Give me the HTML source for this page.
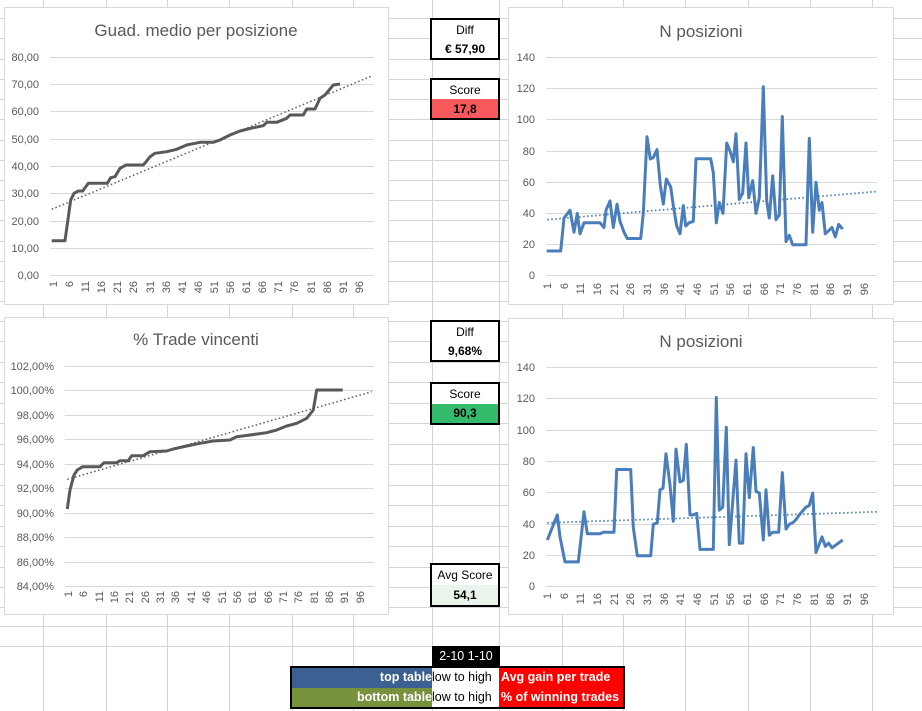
<!DOCTYPE html>
<html><head><meta charset="utf-8"><style>
body{margin:0;width:922px;height:711px;overflow:hidden;background:#fff;font-family:"Liberation Sans",sans-serif}
.bx{position:absolute;border:2px solid #000;box-sizing:border-box;font-size:12px;text-align:center;background:#fff}
.bx div{height:50%;display:flex;align-items:center;justify-content:center}
.b{font-weight:bold}
</style></head><body>
<svg width="922" height="711" style="position:absolute;left:0;top:0" font-family="Liberation Sans, sans-serif">
<g stroke="#d4d4d4" stroke-width="1">
<line x1="43.5" y1="0" x2="43.5" y2="711"/><line x1="106.5" y1="0" x2="106.5" y2="711"/><line x1="167.5" y1="0" x2="167.5" y2="711"/><line x1="229.5" y1="0" x2="229.5" y2="711"/><line x1="292.5" y1="0" x2="292.5" y2="711"/><line x1="353.5" y1="0" x2="353.5" y2="711"/><line x1="432.5" y1="0" x2="432.5" y2="711"/><line x1="499.5" y1="0" x2="499.5" y2="711"/><line x1="562.5" y1="0" x2="562.5" y2="711"/><line x1="623.5" y1="0" x2="623.5" y2="711"/><line x1="685.5" y1="0" x2="685.5" y2="711"/><line x1="748.5" y1="0" x2="748.5" y2="711"/><line x1="810.5" y1="0" x2="810.5" y2="711"/><line x1="872.5" y1="0" x2="872.5" y2="711"/>
<line x1="0" y1="18.5" x2="922" y2="18.5"/><line x1="0" y1="38.5" x2="922" y2="38.5"/><line x1="0" y1="59.5" x2="922" y2="59.5"/><line x1="0" y1="79.5" x2="922" y2="79.5"/><line x1="0" y1="99.5" x2="922" y2="99.5"/><line x1="0" y1="119.5" x2="922" y2="119.5"/><line x1="0" y1="140.5" x2="922" y2="140.5"/><line x1="0" y1="160.5" x2="922" y2="160.5"/><line x1="0" y1="180.5" x2="922" y2="180.5"/><line x1="0" y1="200.5" x2="922" y2="200.5"/><line x1="0" y1="220.5" x2="922" y2="220.5"/><line x1="0" y1="241.5" x2="922" y2="241.5"/><line x1="0" y1="261.5" x2="922" y2="261.5"/><line x1="0" y1="281.5" x2="922" y2="281.5"/><line x1="0" y1="301.5" x2="922" y2="301.5"/><line x1="0" y1="321.5" x2="922" y2="321.5"/><line x1="0" y1="341.5" x2="922" y2="341.5"/><line x1="0" y1="362.5" x2="922" y2="362.5"/><line x1="0" y1="382.5" x2="922" y2="382.5"/><line x1="0" y1="403.5" x2="922" y2="403.5"/><line x1="0" y1="423.5" x2="922" y2="423.5"/><line x1="0" y1="444.5" x2="922" y2="444.5"/><line x1="0" y1="464.5" x2="922" y2="464.5"/><line x1="0" y1="485.5" x2="922" y2="485.5"/><line x1="0" y1="505.5" x2="922" y2="505.5"/><line x1="0" y1="526.5" x2="922" y2="526.5"/><line x1="0" y1="546.5" x2="922" y2="546.5"/><line x1="0" y1="567.5" x2="922" y2="567.5"/><line x1="0" y1="587.5" x2="922" y2="587.5"/><line x1="0" y1="607.5" x2="922" y2="607.5"/><line x1="0" y1="626.5" x2="922" y2="626.5"/><line x1="0" y1="646.5" x2="922" y2="646.5"/>
</g>
<!-- chart frames -->
<g fill="#fff" stroke="#d9d9d9">
<rect x="4.5" y="7.5" width="384" height="297"/>
<rect x="508.5" y="7.5" width="385" height="297"/>
<rect x="4.5" y="317.5" width="384" height="297"/>
<rect x="508.5" y="318.5" width="385" height="296"/>
</g>
<g fill="#595959" font-size="17" text-anchor="middle">
<text x="196" y="36">Guad. medio per posizione</text>
<text x="701" y="37">N posizioni</text>
<text x="196" y="345">% Trade vincenti</text>
<text x="701" y="347">N posizioni</text>
</g>
<!-- chart 1 -->
<g stroke="#d9d9d9"><line x1="50" x2="374" y1="57.5" y2="57.5"/><line x1="50" x2="374" y1="84.5" y2="84.5"/><line x1="50" x2="374" y1="111.5" y2="111.5"/><line x1="50" x2="374" y1="139.5" y2="139.5"/><line x1="50" x2="374" y1="166.5" y2="166.5"/><line x1="50" x2="374" y1="193.5" y2="193.5"/><line x1="50" x2="374" y1="221.5" y2="221.5"/><line x1="50" x2="374" y1="248.5" y2="248.5"/><line x1="50" x2="374" y1="275.5" y2="275.5"/></g>
<g fill="#595959" font-size="11" text-anchor="end"><text x="39" y="61">80,00</text><text x="39" y="88">70,00</text><text x="39" y="115">60,00</text><text x="39" y="143">50,00</text><text x="39" y="170">40,00</text><text x="39" y="197">30,00</text><text x="39" y="225">20,00</text><text x="39" y="252">10,00</text><text x="39" y="279">0,00</text></g>
<g fill="#595959" font-size="11" text-anchor="end">
<text transform="translate(57,281) rotate(-90)">1</text><text transform="translate(73,281) rotate(-90)">6</text><text transform="translate(89,281) rotate(-90)">11</text><text transform="translate(105,281) rotate(-90)">16</text><text transform="translate(121,281) rotate(-90)">21</text><text transform="translate(137,281) rotate(-90)">26</text><text transform="translate(154,281) rotate(-90)">31</text><text transform="translate(170,281) rotate(-90)">36</text><text transform="translate(186,281) rotate(-90)">41</text><text transform="translate(202,281) rotate(-90)">46</text><text transform="translate(218,281) rotate(-90)">51</text><text transform="translate(234,281) rotate(-90)">56</text><text transform="translate(250,281) rotate(-90)">61</text><text transform="translate(266,281) rotate(-90)">66</text><text transform="translate(282,281) rotate(-90)">71</text><text transform="translate(298,281) rotate(-90)">76</text><text transform="translate(315,281) rotate(-90)">81</text><text transform="translate(331,281) rotate(-90)">86</text><text transform="translate(347,281) rotate(-90)">91</text><text transform="translate(363,281) rotate(-90)">96</text></g>
<line x1="51.7" y1="209.3" x2="371.7" y2="76" stroke="#595959" stroke-width="1.5" stroke-dasharray="1.5 2.5"/>
<polyline fill="none" stroke="#595959" stroke-width="3" stroke-linejoin="round" points="51.7,240.7 65,240.7 70.7,200 74,193.3 78.3,191 82.7,191 88.3,183.3 107.3,183.3 110.7,177.7 115,176.7 120,168.3 126,165 143.3,165 146.7,161 150,156.7 155,153.3 166.7,151.7 176.7,149.3 186.7,145 200,142.3 213.3,142.3 220,140 230,135 240,131 253.3,127.7 263.3,125.7 266.7,122.3 276.7,122.3 286.7,118.3 290,115 303.3,115 306.7,109 315,109 320,98.3 325,95 333.3,85 340,84"/>
<!-- chart 3 -->
<g stroke="#d9d9d9"><line x1="65" x2="374" y1="366.5" y2="366.5"/><line x1="65" x2="374" y1="390.5" y2="390.5"/><line x1="65" x2="374" y1="415.5" y2="415.5"/><line x1="65" x2="374" y1="439.5" y2="439.5"/><line x1="65" x2="374" y1="464.5" y2="464.5"/><line x1="65" x2="374" y1="488.5" y2="488.5"/><line x1="65" x2="374" y1="513.5" y2="513.5"/><line x1="65" x2="374" y1="537.5" y2="537.5"/><line x1="65" x2="374" y1="562.5" y2="562.5"/><line x1="65" x2="374" y1="586.5" y2="586.5"/></g>
<g fill="#595959" font-size="11" text-anchor="end"><text x="54" y="370">102,00%</text><text x="54" y="394">100,00%</text><text x="54" y="419">98,00%</text><text x="54" y="443">96,00%</text><text x="54" y="468">94,00%</text><text x="54" y="492">92,00%</text><text x="54" y="517">90,00%</text><text x="54" y="541">88,00%</text><text x="54" y="566">86,00%</text><text x="54" y="590">84,00%</text></g>
<g fill="#595959" font-size="11" text-anchor="end">
<text transform="translate(72,591) rotate(-90)">1</text><text transform="translate(87,591) rotate(-90)">6</text><text transform="translate(103,591) rotate(-90)">11</text><text transform="translate(118,591) rotate(-90)">16</text><text transform="translate(133,591) rotate(-90)">21</text><text transform="translate(149,591) rotate(-90)">26</text><text transform="translate(164,591) rotate(-90)">31</text><text transform="translate(179,591) rotate(-90)">36</text><text transform="translate(195,591) rotate(-90)">41</text><text transform="translate(210,591) rotate(-90)">46</text><text transform="translate(226,591) rotate(-90)">51</text><text transform="translate(241,591) rotate(-90)">56</text><text transform="translate(256,591) rotate(-90)">61</text><text transform="translate(272,591) rotate(-90)">66</text><text transform="translate(287,591) rotate(-90)">71</text><text transform="translate(302,591) rotate(-90)">76</text><text transform="translate(318,591) rotate(-90)">81</text><text transform="translate(333,591) rotate(-90)">86</text><text transform="translate(348,591) rotate(-90)">91</text><text transform="translate(364,591) rotate(-90)">96</text></g>
<line x1="67.3" y1="479.3" x2="371.7" y2="391.7" stroke="#595959" stroke-width="1.5" stroke-dasharray="1.5 2.5"/>
<polyline fill="none" stroke="#595959" stroke-width="3" stroke-linejoin="round" points="67.3,509 70,490 74,475 77.3,470 82.7,466.7 100,466.7 104,462.7 116.7,462.7 120,460.7 128.3,460.7 131.7,455.7 143.3,455.7 150,451.7 166.7,451 173.3,449 186.7,446 200,443.3 213.3,441 230,440 236.7,436.7 250,435 266.7,432.7 276.7,430 286.7,426 296.7,423.3 306.7,418.3 313.3,410 316.7,390 342.7,390"/>
<!-- chart 2 -->
<g stroke="#d9d9d9"><line x1="546" x2="877" y1="57.5" y2="57.5"/><line x1="546" x2="877" y1="88.5" y2="88.5"/><line x1="546" x2="877" y1="119.5" y2="119.5"/><line x1="546" x2="877" y1="151.5" y2="151.5"/><line x1="546" x2="877" y1="182.5" y2="182.5"/><line x1="546" x2="877" y1="213.5" y2="213.5"/><line x1="546" x2="877" y1="244.5" y2="244.5"/><line x1="546" x2="877" y1="275.5" y2="275.5"/></g>
<g fill="#595959" font-size="11" text-anchor="end"><text x="535" y="61">140</text><text x="535" y="92">120</text><text x="535" y="123">100</text><text x="535" y="155">80</text><text x="535" y="186">60</text><text x="535" y="217">40</text><text x="535" y="248">20</text><text x="535" y="279">0</text></g>
<g fill="#595959" font-size="11" text-anchor="end">
<text transform="translate(551,283) rotate(-90)">1</text><text transform="translate(568,283) rotate(-90)">6</text><text transform="translate(584,283) rotate(-90)">11</text><text transform="translate(601,283) rotate(-90)">16</text><text transform="translate(618,283) rotate(-90)">21</text><text transform="translate(634,283) rotate(-90)">26</text><text transform="translate(651,283) rotate(-90)">31</text><text transform="translate(668,283) rotate(-90)">36</text><text transform="translate(684,283) rotate(-90)">41</text><text transform="translate(701,283) rotate(-90)">46</text><text transform="translate(718,283) rotate(-90)">51</text><text transform="translate(734,283) rotate(-90)">56</text><text transform="translate(751,283) rotate(-90)">61</text><text transform="translate(768,283) rotate(-90)">66</text><text transform="translate(784,283) rotate(-90)">71</text><text transform="translate(801,283) rotate(-90)">76</text><text transform="translate(818,283) rotate(-90)">81</text><text transform="translate(834,283) rotate(-90)">86</text><text transform="translate(851,283) rotate(-90)">91</text><text transform="translate(868,283) rotate(-90)">96</text></g>
<line x1="547.3" y1="219.7" x2="876.7" y2="191.5" stroke="#4a7ebb" stroke-width="1.8" stroke-dasharray="1.5 2.5"/>
<polyline fill="none" stroke="#4a7ebb" stroke-width="3" stroke-linejoin="round" points="546.7,251 560.7,251 564,218.1 570,210.3 574,232.2 577.3,213.4 580,233.8 584,222.8 600,222.8 604,227.5 606,210.3 610,200.9 613.3,227.5 617,204.1 620,221.3 624,232.2 627.3,238.5 640.7,238.5 643.3,213.4 647,136.8 650.3,159 653.3,157.5 657,149.6 660.3,185.3 663.3,204.1 666.3,179 670.7,186.9 673.3,205.6 676.7,226 680,233.8 683.3,205.6 685.7,226 689,222.8 693.3,221.3 696,158.7 710.7,158.7 713.3,172.8 716.3,222.8 719.3,202.5 723,213.4 726.7,143 730,151 733.3,161.8 736,133.7 739.3,199.4 742.7,193.1 746,143 748.7,197.8 752.7,180.6 756,213.4 759.3,197.8 763.3,86.8 766.7,200.9 769.3,218.1 772.7,175.9 776,219.7 779.3,215 782.3,116.5 786,241.6 789.3,235.3 792.7,244.7 806,244.7 809.3,138.4 812.7,232.2 816,182.2 819.3,210.3 822,202.5 825.3,233.8 828.7,230.7 832,227.5 835.3,236.9 838.7,224.4 842.7,229.1"/>
<!-- chart 4 -->
<g stroke="#d9d9d9"><line x1="546" x2="877" y1="367.5" y2="367.5"/><line x1="546" x2="877" y1="398.5" y2="398.5"/><line x1="546" x2="877" y1="430.5" y2="430.5"/><line x1="546" x2="877" y1="461.5" y2="461.5"/><line x1="546" x2="877" y1="492.5" y2="492.5"/><line x1="546" x2="877" y1="524.5" y2="524.5"/><line x1="546" x2="877" y1="555.5" y2="555.5"/><line x1="546" x2="877" y1="586.5" y2="586.5"/></g>
<g fill="#595959" font-size="11" text-anchor="end"><text x="535" y="371">140</text><text x="535" y="402">120</text><text x="535" y="434">100</text><text x="535" y="465">80</text><text x="535" y="496">60</text><text x="535" y="528">40</text><text x="535" y="559">20</text><text x="535" y="590">0</text></g>
<g fill="#595959" font-size="11" text-anchor="end">
<text transform="translate(551,593) rotate(-90)">1</text><text transform="translate(568,593) rotate(-90)">6</text><text transform="translate(584,593) rotate(-90)">11</text><text transform="translate(601,593) rotate(-90)">16</text><text transform="translate(618,593) rotate(-90)">21</text><text transform="translate(634,593) rotate(-90)">26</text><text transform="translate(651,593) rotate(-90)">31</text><text transform="translate(668,593) rotate(-90)">36</text><text transform="translate(684,593) rotate(-90)">41</text><text transform="translate(701,593) rotate(-90)">46</text><text transform="translate(718,593) rotate(-90)">51</text><text transform="translate(734,593) rotate(-90)">56</text><text transform="translate(751,593) rotate(-90)">61</text><text transform="translate(768,593) rotate(-90)">66</text><text transform="translate(784,593) rotate(-90)">71</text><text transform="translate(801,593) rotate(-90)">76</text><text transform="translate(818,593) rotate(-90)">81</text><text transform="translate(834,593) rotate(-90)">86</text><text transform="translate(851,593) rotate(-90)">91</text><text transform="translate(868,593) rotate(-90)">96</text></g>
<line x1="547.3" y1="522.8" x2="876.7" y2="511.8" stroke="#4a7ebb" stroke-width="1.8" stroke-dasharray="1.5 2.5"/>
<polyline fill="none" stroke="#4a7ebb" stroke-width="3" stroke-linejoin="round" points="547.3,540 557.3,514.9 560,536.9 565,561.9 578.3,561.9 584,511.8 587.3,533.7 600,533.7 603.3,532.2 614,532.2 616.7,469.5 630.7,469.5 633.3,527.5 637.3,555.7 650.7,555.7 653.3,524.3 657.3,522.8 660,489.8 663,488.3 666,453.8 670,485.1 673.3,521.2 676,449.1 680,482 683.3,480.4 686.3,444.4 690,514.9 693.3,514.9 696.7,513.3 700,549.4 713.3,549.4 716.3,397.4 719.3,510.2 722.7,507.1 726.3,427.2 729.3,544.7 736,460.1 739.3,543.1 742.7,543.1 746,453.8 749.3,497.7 753.3,447.5 756,491.4 759.3,493 763.3,540 766,489.8 769.3,535.3 772.7,532.2 778.7,532.2 782.3,472.6 786,529 789.3,524.3 792.7,522.8 796,519.6 799.3,514.9 806,507.1 809.3,505.5 812.7,493 816,552.5 822,536.9 825.3,546.3 828.7,543.1 832,547.8 842.7,540"/>
</svg>

<div class="bx" style="left:430px;top:18px;width:70px;height:42px"><div>Diff</div><div class="b">€ 57,90</div></div>
<div class="bx" style="left:430px;top:78px;width:70px;height:42px"><div>Score</div><div class="b" style="background:#f8595c">17,8</div></div>
<div class="bx" style="left:430px;top:320px;width:70px;height:42px"><div>Diff</div><div class="b">9,68%</div></div>
<div class="bx" style="left:430px;top:382px;width:70px;height:43px"><div>Score</div><div class="b" style="background:#33bb6b">90,3</div></div>
<div class="bx" style="left:430px;top:563px;width:70px;height:44px"><div>Avg Score</div><div class="b" style="background:#e9f5ec">54,1</div></div>

<div style="position:absolute;left:432px;top:646px;width:68px;height:21px;background:#000;color:#fff;font-size:12.5px;line-height:21px;text-align:center">2-10 1-10</div>
<div style="position:absolute;left:290px;top:666px;width:335px;height:43px;border:2px solid #000;box-sizing:border-box;font-size:12.5px;line-height:19.5px;font-weight:bold">
<div style="position:absolute;left:0;top:0;width:140px;height:20px;background:#3b6091;color:#fff;text-align:right">top table</div>
<div style="position:absolute;left:140px;top:0;width:67px;height:20px;background:#fff;font-weight:normal;white-space:nowrap">low to high</div>
<div style="position:absolute;left:207px;top:0;width:124px;height:20px;background:#ff0000;color:#fff;padding-left:2px;box-sizing:border-box;white-space:nowrap">Avg gain per trade</div>
<div style="position:absolute;left:0;top:20px;width:140px;height:19px;background:#76923c;color:#fff;text-align:right">bottom table</div>
<div style="position:absolute;left:140px;top:20px;width:67px;height:19px;background:#fff;font-weight:normal;white-space:nowrap">low to high</div>
<div style="position:absolute;left:207px;top:20px;width:124px;height:19px;background:#ff0000;color:#fff;padding-left:2px;box-sizing:border-box;white-space:nowrap;overflow:hidden">% of winning trades</div>
</div>
</body></html>
